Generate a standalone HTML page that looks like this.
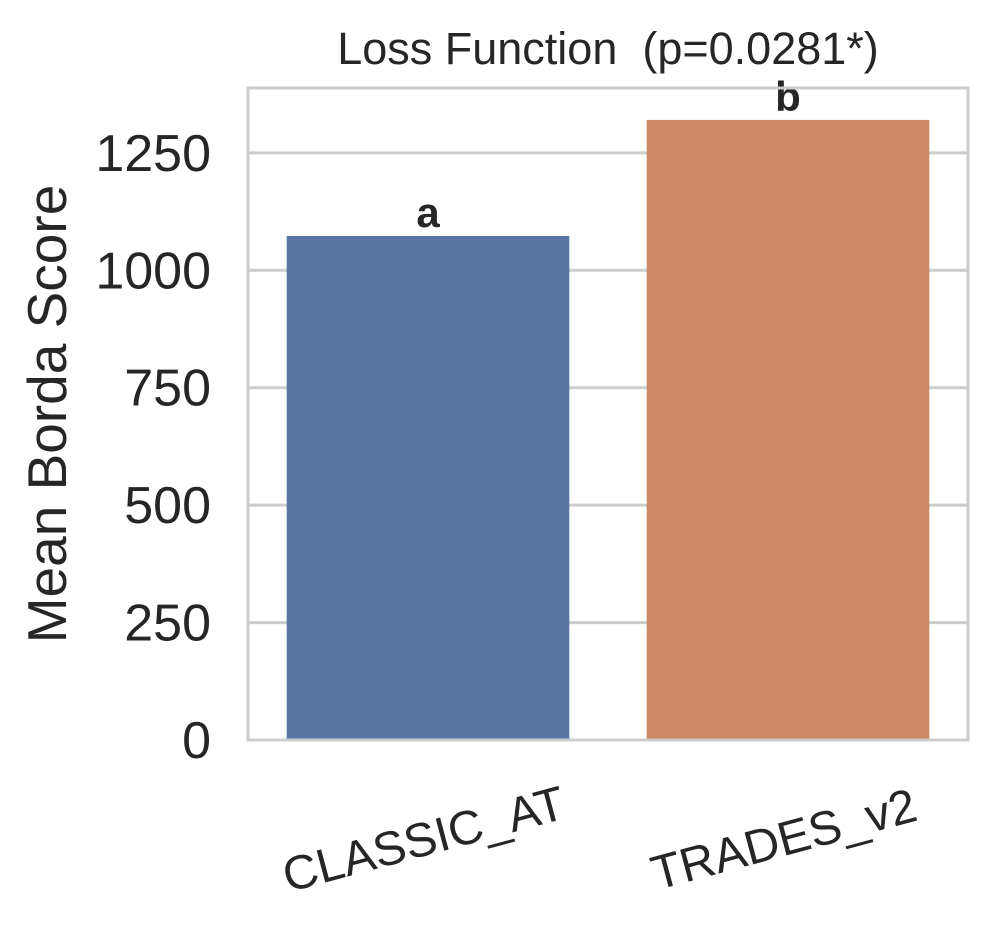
<!DOCTYPE html>
<html><head><meta charset="utf-8"><style>
html,body{margin:0;padding:0;background:#fff;}
svg{display:block;font-family:"Liberation Sans",Arial,sans-serif;}
</style></head><body>
<svg id="chart" width="997" height="933" viewBox="0 0 997 933">
<g id="grid"></g>
<g id="bars"></g>
<g id="yticks"></g>
<g id="xticks"></g>
<rect x="248" y="88" width="720" height="652" fill="none" stroke="#cccccc" stroke-width="3"/>
<text x="608" y="64" text-anchor="middle" font-size="45" fill="#262626" xml:space="preserve">Loss Function  (p=0.0281*)</text>
<text transform="translate(66,414) rotate(-90)" text-anchor="middle" font-size="55" fill="#262626">Mean Borda Score</text>
</svg>
<script>
const categories = ["CLASSIC_AT", "TRADES_v2"];
const values = [1073, 1320];
const letters = ["a", "b"];
const yTicks = [0, 250, 500, 750, 1000, 1250];
const colors = ["#5875a4", "#cc8963"];
const NS = "http://www.w3.org/2000/svg";
const L = 248, R = 968, T = 88, B = 740, yMax = 1388;
const y = v => B - (v / yMax) * (B - T);
const band = (R - L) / categories.length;
const xc = i => L + band * (i + 0.5);
const bw = band * 0.785;
function mk(tag, attrs, parent) { const e = document.createElementNS(NS, tag); for (const k in attrs) e.setAttribute(k, attrs[k]); parent.appendChild(e); return e; }
const grid = document.getElementById('grid'), bars = document.getElementById('bars'), yt = document.getElementById('yticks'), xt = document.getElementById('xticks');
yTicks.forEach(t => {
  const ln = mk('line', {x1: L, x2: R, y1: y(t), y2: y(t), stroke: '#cccccc', 'stroke-width': 3}, grid);
  
  
  const tx = mk('text', {x: 211, y: y(t) + 18, 'text-anchor': 'end', 'font-size': 52, fill: '#262626'}, yt);
  tx.textContent = t;
  
  
});
categories.forEach((c, i) => {
  const r = mk('rect', {x: xc(i) - bw / 2, y: y(values[i]), width: bw, height: B - y(values[i]), fill: colors[i]}, bars);
  
  
  const lt = mk('text', {x: xc(i), y: y(values[i]) - 9, 'text-anchor': 'middle', 'font-size': 42, 'font-weight': 'bold', fill: '#262626'}, bars);
  lt.textContent = letters[i];
  
  
  const xl = mk('text', {transform: `translate(${xc(i)},${B + 115}) rotate(-15)`, 'text-anchor': 'middle', 'font-size': 48, fill: '#262626'}, xt);
  xl.textContent = c;
  
  
});
</script>
</body></html>
